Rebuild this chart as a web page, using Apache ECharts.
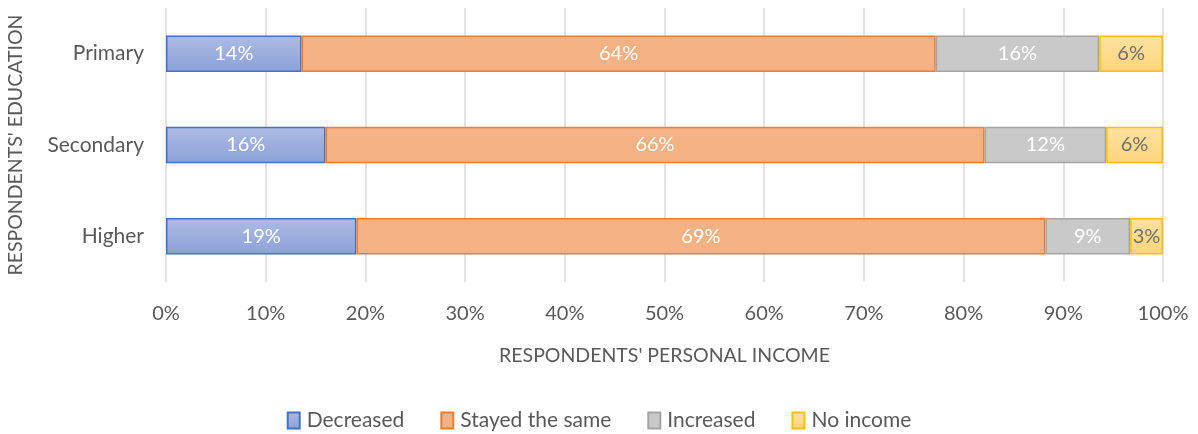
<!DOCTYPE html>
<html>
<head>
<meta charset="utf-8">
<script src="https://cdn.jsdelivr.net/npm/echarts@6/dist/echarts.min.js"></script>
<style>
  html, body { margin: 0; padding: 0; background: #fff; }
  #main { width: 1198px; height: 434px; }
</style>
</head>
<body>
<div id="main"></div>
<script>
// categories, top to bottom
const categories = ["Primary", "Secondary", "Higher"];
// shares in percent
const decreased = [13.6, 16.0, 19.1];
const stayedSame = [63.6, 66.1, 69.1];
const increased = [16.4, 12.2, 8.5];
const noIncome = [6.4, 5.7, 3.3];
const xTicks = [0, 10, 20, 30, 40, 50, 60, 70, 80, 90, 100];

const font = "Lato, 'Open Sans', sans-serif";
const grey = "#595959";

const grad = (top, bottom) => new echarts.graphic.LinearGradient(0, 0, 0, 1, [
  { offset: 0, color: top },
  { offset: 1, color: bottom }
]);

const makeSeries = (name, data, fill, border, labelColor) => ({
  name: name,
  type: "bar",
  stack: "total",
  data: data,
  barWidth: "40%",
  itemStyle: { color: fill, borderColor: border, borderWidth: 1.5 },
  label: {
    show: true,
    position: "inside",
    color: labelColor,
    fontFamily: font,
    fontSize: 20,
    formatter: (p) => Math.round(p.value) + "%"
  },
  emphasis: { disabled: true }
});

const myChart = echarts.init(document.getElementById("main"));
const option = {
  animation: false,
  textStyle: { fontFamily: font },
  grid: { left: 166, right: 35, top: 8, bottom: 152, containLabel: false, outerBoundsMode: "none" },
  legend: {
    bottom: -2,
    left: "center",
    itemWidth: 12,
    itemHeight: 16,
    itemGap: 36,
    icon: "rect",
    textStyle: { color: grey, fontSize: 21, fontFamily: font, padding: [0, 0, 0, 2] },
    data: ["Decreased", "Stayed the same", "Increased", "No income"]
  },
  xAxis: {
    type: "value",
    min: 0,
    max: 100,
    interval: 10,
    name: "RESPONDENTS' PERSONAL INCOME",
    nameLocation: "middle",
    nameGap: 64,
    nameTextStyle: { color: grey, fontSize: 19.5, fontFamily: font },
    axisLine: { show: false },
    axisTick: { show: false },
    axisLabel: {
      color: grey, fontSize: 20, fontFamily: font, margin: 22,
      formatter: (v) => xTicks.includes(v) ? v + "%" : ""
    },
    splitLine: { show: true, lineStyle: { color: "#d9d9d9", width: 1.5 } }
  },
  yAxis: {
    type: "category",
    data: categories,
    inverse: true,
    name: "RESPONDENTS' EDUCATION",
    nameLocation: "middle",
    nameGap: 140,
    nameTextStyle: { color: grey, fontSize: 19.5, fontFamily: font },
    axisLine: { show: false },
    axisTick: { show: false },
    axisLabel: { color: grey, fontSize: 21, fontFamily: font, margin: 22 }
  },
  series: [
    makeSeries("Decreased", decreased, grad("#aebbe3", "#8aa1d8"), "#4472c4", "#ffffff"),
    makeSeries("Stayed the same", stayedSame, "#f4b183", "#ed7d31", "#ffffff"),
    makeSeries("Increased", increased, "#c9c9c9", "#a5a5a5", "#ffffff"),
    makeSeries("No income", noIncome, grad("#ffe2a0", "#ffd47c"), "#ffc000", "#6f6f6f")
  ]
};
myChart.setOption(option);
</script>
</body>
</html>
